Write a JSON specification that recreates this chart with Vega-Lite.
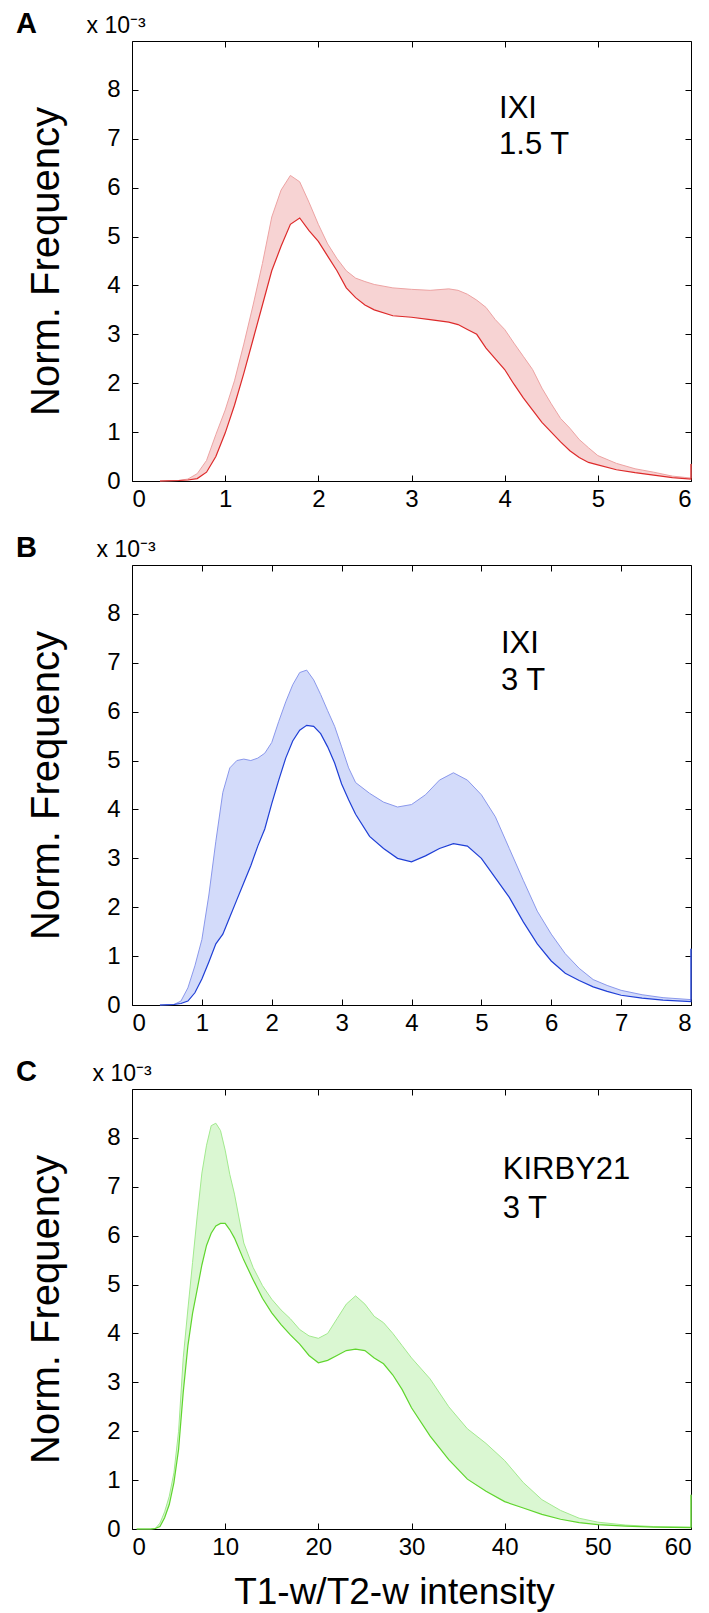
{
"$schema": "https://vega.github.io/schema/vega-lite/v6.json",
"padding": {"left": 15, "top": 9, "right": 10, "bottom": 5},
"bounds": "flush",
"spacing": 84,
"config": {
  "font": "Liberation Sans",
  "view": {"stroke": "black", "strokeWidth": 1},
  "axis": {"domain": false, "grid": false, "ticks": true, "tickColor": "black", "tickSize": -6, "tickWidth": 1,
           "labelColor": "black", "labelFontSize": 24, "labelFont": "Liberation Sans",
           "titleColor": "black", "titleFont": "Liberation Sans", "titleFontWeight": "normal", "zindex": 1},
  "title": {"font": "Liberation Sans", "fontSize": 29, "fontWeight": "bold", "color": "black", "anchor": "start", "frame": "group", "dx": -116, "dy": 29, "offset": 0, "baseline": "alphabetic"}
},
"datasets": {
  "A": [
    {"x":0.3,"lo":0,"hi":0},{"x":0.5,"lo":0.01,"hi":0.01},{"x":0.6,"lo":0.02,"hi":0.04},{"x":0.7,"lo":0.05,"hi":0.15},
    {"x":0.8,"lo":0.18,"hi":0.42},{"x":0.9,"lo":0.5,"hi":0.95},{"x":1.0,"lo":0.98,"hi":1.45},{"x":1.1,"lo":1.55,"hi":2.05},
    {"x":1.2,"lo":2.2,"hi":2.8},{"x":1.3,"lo":2.9,"hi":3.6},{"x":1.4,"lo":3.6,"hi":4.45},{"x":1.5,"lo":4.3,"hi":5.4},
    {"x":1.6,"lo":4.8,"hi":5.95},{"x":1.7,"lo":5.25,"hi":6.25},{"x":1.8,"lo":5.38,"hi":6.12},{"x":1.9,"lo":5.12,"hi":5.7},
    {"x":2.0,"lo":4.9,"hi":5.25},{"x":2.1,"lo":4.6,"hi":4.85},{"x":2.2,"lo":4.3,"hi":4.55},{"x":2.3,"lo":3.95,"hi":4.3},
    {"x":2.4,"lo":3.75,"hi":4.15},{"x":2.5,"lo":3.6,"hi":4.08},{"x":2.6,"lo":3.5,"hi":4.02},{"x":2.8,"lo":3.38,"hi":3.95},
    {"x":3.0,"lo":3.35,"hi":3.92},{"x":3.2,"lo":3.3,"hi":3.9},{"x":3.4,"lo":3.25,"hi":3.93},{"x":3.5,"lo":3.2,"hi":3.9},
    {"x":3.6,"lo":3.1,"hi":3.82},{"x":3.7,"lo":3.0,"hi":3.7},{"x":3.8,"lo":2.72,"hi":3.55},{"x":3.9,"lo":2.5,"hi":3.3},
    {"x":4.0,"lo":2.28,"hi":3.1},{"x":4.1,"lo":1.98,"hi":2.82},{"x":4.2,"lo":1.7,"hi":2.55},{"x":4.3,"lo":1.45,"hi":2.28},
    {"x":4.4,"lo":1.2,"hi":1.9},{"x":4.5,"lo":1.0,"hi":1.58},{"x":4.6,"lo":0.8,"hi":1.28},{"x":4.7,"lo":0.62,"hi":1.08},
    {"x":4.8,"lo":0.48,"hi":0.85},{"x":4.9,"lo":0.38,"hi":0.68},{"x":5.0,"lo":0.33,"hi":0.52},{"x":5.2,"lo":0.23,"hi":0.36},
    {"x":5.4,"lo":0.17,"hi":0.25},{"x":5.6,"lo":0.12,"hi":0.18},{"x":5.8,"lo":0.07,"hi":0.1},{"x":6.0,"lo":0.04,"hi":0.06},
    {"x":6.0,"lo":0.35,"hi":0.35}
  ],
  "B": [
    {"x":0.4,"lo":0,"hi":0},{"x":0.6,"lo":0.01,"hi":0.01},{"x":0.7,"lo":0.03,"hi":0.08},{"x":0.8,"lo":0.08,"hi":0.35},
    {"x":0.9,"lo":0.25,"hi":0.8},{"x":1.0,"lo":0.53,"hi":1.34},{"x":1.1,"lo":0.88,"hi":2.25},{"x":1.2,"lo":1.25,"hi":3.35},
    {"x":1.3,"lo":1.45,"hi":4.35},{"x":1.4,"lo":1.8,"hi":4.85},{"x":1.5,"lo":2.15,"hi":5.0},{"x":1.6,"lo":2.5,"hi":5.03},
    {"x":1.7,"lo":2.85,"hi":5.0},{"x":1.8,"lo":3.25,"hi":5.05},{"x":1.9,"lo":3.6,"hi":5.15},{"x":2.0,"lo":4.12,"hi":5.37},
    {"x":2.1,"lo":4.6,"hi":5.8},{"x":2.2,"lo":5.05,"hi":6.2},{"x":2.3,"lo":5.4,"hi":6.55},{"x":2.4,"lo":5.62,"hi":6.8},
    {"x":2.5,"lo":5.72,"hi":6.85},{"x":2.6,"lo":5.7,"hi":6.65},{"x":2.7,"lo":5.55,"hi":6.35},{"x":2.8,"lo":5.28,"hi":6.02},
    {"x":2.9,"lo":4.95,"hi":5.7},{"x":3.0,"lo":4.52,"hi":5.28},{"x":3.1,"lo":4.2,"hi":4.85},{"x":3.2,"lo":3.9,"hi":4.55},
    {"x":3.4,"lo":3.45,"hi":4.33},{"x":3.6,"lo":3.2,"hi":4.15},{"x":3.8,"lo":3.0,"hi":4.05},{"x":4.0,"lo":2.93,"hi":4.1},
    {"x":4.2,"lo":3.05,"hi":4.3},{"x":4.4,"lo":3.2,"hi":4.6},{"x":4.6,"lo":3.3,"hi":4.75},{"x":4.8,"lo":3.25,"hi":4.6},
    {"x":5.0,"lo":3.0,"hi":4.3},{"x":5.2,"lo":2.6,"hi":3.85},{"x":5.4,"lo":2.2,"hi":3.2},{"x":5.6,"lo":1.7,"hi":2.55},
    {"x":5.8,"lo":1.25,"hi":1.92},{"x":6.0,"lo":0.9,"hi":1.45},{"x":6.2,"lo":0.65,"hi":1.05},{"x":6.4,"lo":0.5,"hi":0.75},
    {"x":6.6,"lo":0.37,"hi":0.52},{"x":6.8,"lo":0.28,"hi":0.4},{"x":7.0,"lo":0.2,"hi":0.3},{"x":7.3,"lo":0.14,"hi":0.21},
    {"x":7.6,"lo":0.1,"hi":0.15},{"x":8.0,"lo":0.07,"hi":0.11},{"x":8.0,"lo":1.15,"hi":1.15}
  ],
  "C": [
    {"x":0.5,"lo":0,"hi":0},{"x":2,"lo":0,"hi":0},{"x":2.5,"lo":0.01,"hi":0.01},{"x":3,"lo":0.05,"hi":0.12},
    {"x":3.5,"lo":0.23,"hi":0.35},{"x":4,"lo":0.5,"hi":0.67},{"x":4.5,"lo":0.95,"hi":1.15},{"x":5,"lo":1.63,"hi":2.0},
    {"x":5.5,"lo":2.8,"hi":3.5},{"x":6,"lo":3.75,"hi":4.5},{"x":6.5,"lo":4.41,"hi":5.45},{"x":7,"lo":4.9,"hi":6.4},
    {"x":7.5,"lo":5.4,"hi":7.28},{"x":8,"lo":5.8,"hi":7.85},{"x":8.5,"lo":6.05,"hi":8.25},{"x":9,"lo":6.2,"hi":8.3},
    {"x":9.5,"lo":6.25,"hi":8.15},{"x":10,"lo":6.25,"hi":7.75},{"x":10.5,"lo":6.12,"hi":7.25},{"x":11,"lo":5.95,"hi":6.85},
    {"x":12,"lo":5.5,"hi":5.85},{"x":13,"lo":5.1,"hi":5.35},{"x":14,"lo":4.72,"hi":4.98},{"x":15,"lo":4.42,"hi":4.7},
    {"x":16,"lo":4.18,"hi":4.48},{"x":17,"lo":3.97,"hi":4.3},{"x":18,"lo":3.78,"hi":4.08},{"x":19,"lo":3.55,"hi":3.95},
    {"x":20,"lo":3.4,"hi":3.9},{"x":21,"lo":3.45,"hi":4.0},{"x":22,"lo":3.55,"hi":4.3},{"x":23,"lo":3.65,"hi":4.6},
    {"x":24,"lo":3.68,"hi":4.77},{"x":25,"lo":3.65,"hi":4.6},{"x":26,"lo":3.5,"hi":4.35},{"x":27,"lo":3.38,"hi":4.22},
    {"x":28,"lo":3.15,"hi":4.0},{"x":29,"lo":2.85,"hi":3.75},{"x":30,"lo":2.48,"hi":3.5},{"x":32,"lo":1.9,"hi":3.07},
    {"x":34,"lo":1.42,"hi":2.5},{"x":36,"lo":1.02,"hi":2.05},{"x":38,"lo":0.77,"hi":1.75},{"x":40,"lo":0.56,"hi":1.4},
    {"x":42,"lo":0.43,"hi":0.95},{"x":44,"lo":0.3,"hi":0.6},{"x":46,"lo":0.2,"hi":0.38},{"x":48,"lo":0.13,"hi":0.22},
    {"x":50,"lo":0.09,"hi":0.14},{"x":53,"lo":0.06,"hi":0.08},{"x":56,"lo":0.04,"hi":0.05},{"x":60,"lo":0.03,"hi":0.04},
    {"x":60,"lo":0.7,"hi":0.7}
  ],
  "tA": [{"t":"IXI","tx":3.94,"ty":7.43},{"t":"1.5 T","tx":3.94,"ty":6.69}],
  "tB": [{"t":"IXI","tx":5.28,"ty":7.2},{"t":"3 T","tx":5.28,"ty":6.45}],
  "tC": [{"t":"KIRBY21","tx":39.8,"ty":7.16},{"t":"3 T","tx":39.8,"ty":6.36}]
},
"vconcat": [
  {
    "width": 559, "height": 440,
    "title": {"text": "A"},
    "data": {"name": "A"},
    "resolve": {"axis": {"x": "independent", "y": "independent"}},
    "layer": [
      {"mark": {"type": "area", "color": "#f7d3d3", "opacity": 1},
       "encoding": {
         "x": {"field": "x", "type": "quantitative", "scale": {"domain": [0, 6], "nice": false, "zero": false},
               "axis": {"orient": "bottom", "values": [0,1,2,3,4,5,6], "title": null, "labelPadding": 12}},
         "y": {"field": "hi", "type": "quantitative", "scale": {"domain": [0, 9], "nice": false},
               "axis": {"orient": "left", "values": [0,1,2,3,4,5,6,7,8], "labelPadding": 18, "title": "Norm. Frequency",
                        "titleFontSize": 40, "titleAngle": -90, "titleX": -74, "titleY": 220, "titleAlign": "center", "titleBaseline": "alphabetic"}},
         "y2": {"field": "lo"}}},
      {"mark": {"type": "line", "color": "#eda3a3", "strokeWidth": 1},
       "encoding": {
         "x": {"field": "x", "type": "quantitative",
               "axis": {"orient": "top", "values": [0,1,2,3,4,5,6], "labels": false, "title": "x 10⁻³",
                        "titleFontSize": 23, "titleAngle": 0, "titleX": -46, "titleY": -9, "titleAlign": "left", "titleBaseline": "alphabetic"}},
         "y": {"field": "hi", "type": "quantitative",
               "axis": {"orient": "right", "values": [0,1,2,3,4,5,6,7,8], "labels": false, "title": null}}}},
      {"mark": {"type": "line", "color": "#dd2a2a", "strokeWidth": 1.2},
       "encoding": {"x": {"field": "x", "type": "quantitative", "axis": null},
                    "y": {"field": "lo", "type": "quantitative", "axis": null}}},
      {"data": {"name": "tA"},
       "mark": {"type": "text", "align": "left", "baseline": "alphabetic", "fontSize": 31, "color": "black"},
       "encoding": {"x": {"field": "tx", "type": "quantitative", "axis": null},
                    "y": {"field": "ty", "type": "quantitative", "axis": null},
                    "text": {"field": "t"}}}
    ]
  },
  {
    "width": 559, "height": 440,
    "title": {"text": "B"},
    "data": {"name": "B"},
    "resolve": {"axis": {"x": "independent", "y": "independent"}},
    "layer": [
      {"mark": {"type": "area", "color": "#d3dbfa", "opacity": 1},
       "encoding": {
         "x": {"field": "x", "type": "quantitative", "scale": {"domain": [0, 8], "nice": false, "zero": false},
               "axis": {"orient": "bottom", "values": [0,1,2,3,4,5,6,7,8], "title": null, "labelPadding": 12}},
         "y": {"field": "hi", "type": "quantitative", "scale": {"domain": [0, 9], "nice": false},
               "axis": {"orient": "left", "values": [0,1,2,3,4,5,6,7,8], "labelPadding": 18, "title": "Norm. Frequency",
                        "titleFontSize": 40, "titleAngle": -90, "titleX": -74, "titleY": 220, "titleAlign": "center", "titleBaseline": "alphabetic"}},
         "y2": {"field": "lo"}}},
      {"mark": {"type": "line", "color": "#8a98ec", "strokeWidth": 1},
       "encoding": {
         "x": {"field": "x", "type": "quantitative",
               "axis": {"orient": "top", "values": [0,1,2,3,4,5,6,7,8], "labels": false, "title": "x 10⁻³",
                        "titleFontSize": 23, "titleAngle": 0, "titleX": -36, "titleY": -9, "titleAlign": "left", "titleBaseline": "alphabetic"}},
         "y": {"field": "hi", "type": "quantitative",
               "axis": {"orient": "right", "values": [0,1,2,3,4,5,6,7,8], "labels": false, "title": null}}}},
      {"mark": {"type": "line", "color": "#1f3fd6", "strokeWidth": 1.2},
       "encoding": {"x": {"field": "x", "type": "quantitative", "axis": null},
                    "y": {"field": "lo", "type": "quantitative", "axis": null}}},
      {"data": {"name": "tB"},
       "mark": {"type": "text", "align": "left", "baseline": "alphabetic", "fontSize": 31, "color": "black"},
       "encoding": {"x": {"field": "tx", "type": "quantitative", "axis": null},
                    "y": {"field": "ty", "type": "quantitative", "axis": null},
                    "text": {"field": "t"}}}
    ]
  },
  {
    "width": 559, "height": 440,
    "title": {"text": "C"},
    "data": {"name": "C"},
    "resolve": {"axis": {"x": "independent", "y": "independent"}},
    "layer": [
      {"mark": {"type": "area", "color": "#daf7d2", "opacity": 1},
       "encoding": {
         "x": {"field": "x", "type": "quantitative", "scale": {"domain": [0, 60], "nice": false, "zero": false},
               "axis": {"orient": "bottom", "values": [0,10,20,30,40,50,60], "labelPadding": 12, "title": "T1-w/T2-w intensity",
                        "titleFontSize": 37, "titleX": 262, "titleAlign": "center", "titleY": 74, "titleBaseline": "alphabetic"}},
         "y": {"field": "hi", "type": "quantitative", "scale": {"domain": [0, 9], "nice": false},
               "axis": {"orient": "left", "values": [0,1,2,3,4,5,6,7,8], "labelPadding": 18, "title": "Norm. Frequency",
                        "titleFontSize": 40, "titleAngle": -90, "titleX": -74, "titleY": 220, "titleAlign": "center", "titleBaseline": "alphabetic"}},
         "y2": {"field": "lo"}}},
      {"mark": {"type": "line", "color": "#a2ea8e", "strokeWidth": 1},
       "encoding": {
         "x": {"field": "x", "type": "quantitative",
               "axis": {"orient": "top", "values": [0,10,20,30,40,50,60], "labels": false, "title": "x 10⁻³",
                        "titleFontSize": 23, "titleAngle": 0, "titleX": -40, "titleY": -9, "titleAlign": "left", "titleBaseline": "alphabetic"}},
         "y": {"field": "hi", "type": "quantitative",
               "axis": {"orient": "right", "values": [0,1,2,3,4,5,6,7,8], "labels": false, "title": null}}}},
      {"mark": {"type": "line", "color": "#5fd52d", "strokeWidth": 1.2},
       "encoding": {"x": {"field": "x", "type": "quantitative", "axis": null},
                    "y": {"field": "lo", "type": "quantitative", "axis": null}}},
      {"data": {"name": "tC"},
       "mark": {"type": "text", "align": "left", "baseline": "alphabetic", "fontSize": 31, "color": "black"},
       "encoding": {"x": {"field": "tx", "type": "quantitative", "axis": null},
                    "y": {"field": "ty", "type": "quantitative", "axis": null},
                    "text": {"field": "t"}}}
    ]
  }
]
}
